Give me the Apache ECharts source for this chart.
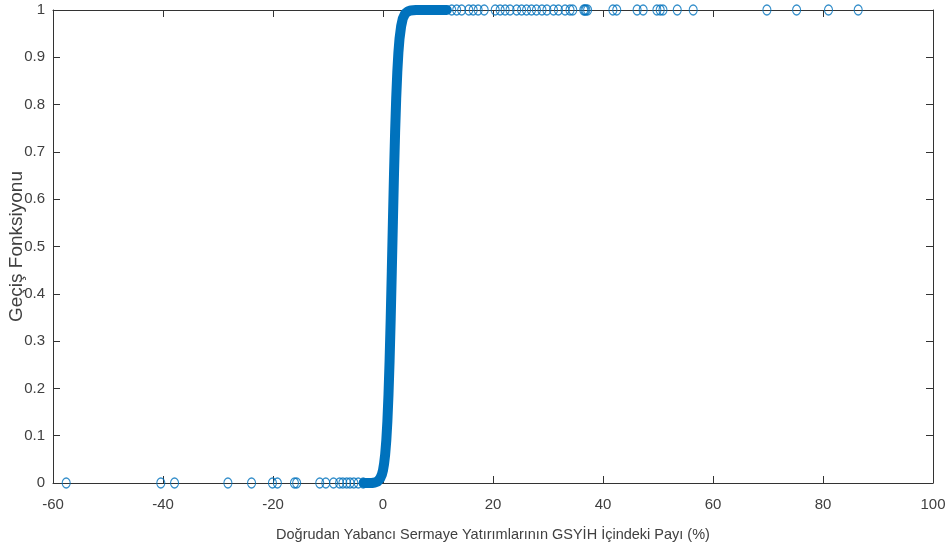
<!DOCTYPE html>
<html>
<head>
<meta charset="utf-8">
<script src="https://cdn.jsdelivr.net/npm/echarts@6/dist/echarts.min.js"></script>
<style>html,body{margin:0;padding:0;background:#fff;}#c{width:948px;height:548px;}</style>
</head>
<body>
<div id="c"></div>
<script>
// Sparse observations at G ~ 0 (x values)
const lowX = [-57.6, -40.4, -37.9, -28.2, -23.9, -20.1, -19.2, -16.1, -15.7, -11.5, -10.4, -9.0, -7.9, -7.3, -6.6, -6.0, -5.3, -4.5, -3.6];
// Sparse observations at G ~ 1 (x values)
const highX = [12.5, 13.4, 14.3, 15.6, 16.4, 17.3, 18.4, 20.4, 21.3, 22.2, 23.1, 24.3, 25.2, 26.1, 27.0, 27.9, 28.9, 29.8, 31.0, 31.9, 33.1, 34.0, 34.5, 36.5, 36.7, 36.9, 37.2, 41.8, 42.5, 46.2, 47.3, 49.8, 50.4, 50.9, 53.5, 56.4, 69.8, 75.2, 81.0, 86.4];
// Dense transition part of the curve
const curveX = [-3.5, -3.0, -2.5, -2.0, -1.5, -1.0, -0.5, -0.2, 0.0, 0.2, 0.4, 0.6, 0.8, 1.0, 1.2, 1.4, 1.6, 1.8, 2.0, 2.2, 2.4, 2.6, 2.8, 3.0, 3.3, 3.6, 4.0, 4.5, 5.0, 6.0, 7.0, 8.0, 9.0, 10.0, 11.0, 11.6];
const curveY = [0.000, 0.000, 0.000, 0.000, 0.001, 0.003, 0.010, 0.018, 0.027, 0.041, 0.061, 0.090, 0.131, 0.187, 0.259, 0.347, 0.448, 0.552, 0.653, 0.741, 0.813, 0.869, 0.910, 0.939, 0.966, 0.982, 0.992, 0.997, 0.999, 1.000, 1.000, 1.000, 1.000, 1.000, 1.000, 1.000];
const xTicks = [-60, -40, -20, 0, 20, 40, 60, 80, 100];
const yTicks = [0, 0.1, 0.2, 0.3, 0.4, 0.5, 0.6, 0.7, 0.8, 0.9, 1];

const blue = '#0072BD';
const axisCol = '#333333';
const labelFont = "'Liberation Sans Narrow', 'Liberation Sans', Arial, sans-serif";

const chart = echarts.init(document.getElementById('c'), null, {renderer: 'canvas'});
const pts = [];
lowX.forEach(x => pts.push([x, 0]));
highX.forEach(x => pts.push([x, 1]));
const curve = curveX.map((x, i) => [x, curveY[i]]);

const baseAxis = {
  axisLine: {show: true, onZero: false, lineStyle: {color: axisCol, width: 1}},
  axisTick: {show: true, inside: true, length: 7, lineStyle: {color: axisCol}},
  splitLine: {show: false}
};

chart.setOption({
  animation: false,
  backgroundColor: '#fff',
  grid: {left: 53, right: 15, top: 10, bottom: 65, containLabel: false, outerBoundsMode: 'none'},
  xAxis: [
    Object.assign({}, baseAxis, {
      type: 'value', min: xTicks[0], max: xTicks[xTicks.length - 1], interval: 20, position: 'bottom',
      axisLabel: {color: '#404040', fontSize: 15, fontFamily: labelFont, margin: 14},
      name: 'Doğrudan Yabancı Sermaye Yatırımlarının GSYİH İçindeki Payı (%)',
      nameLocation: 'middle', nameGap: 44,
      nameTextStyle: {color: '#404040', fontSize: 14.5, fontFamily: labelFont}
    }),
    Object.assign({}, baseAxis, {
      type: 'value', min: xTicks[0], max: xTicks[xTicks.length - 1], interval: 20, position: 'top',
      axisLabel: {show: false}
    })
  ],
  yAxis: [
    Object.assign({}, baseAxis, {
      type: 'value', min: 0, max: 1, interval: 0.1, position: 'left',
      axisLabel: {color: '#404040', fontSize: 15, fontFamily: labelFont, margin: 8,
        formatter: v => (Math.round(v * 10) / 10).toString()},
      name: 'Geçiş Fonksiyonu', nameLocation: 'middle', nameGap: 27, nameRotate: 90,
      nameMoveOverlap: false,
      nameTextStyle: {color: '#404040', fontSize: 19, fontFamily: "'Liberation Sans', Arial, sans-serif"}
    }),
    Object.assign({}, baseAxis, {
      type: 'value', min: 0, max: 1, interval: 0.1, position: 'right',
      axisLabel: {show: false}
    })
  ],
  series: [
    {
      type: 'line', data: curve, xAxisIndex: 0, yAxisIndex: 0,
      showSymbol: false, symbol: 'none', smooth: false,
      lineStyle: {color: blue, width: 10, cap: 'round', join: 'round'},
      z: 3
    },
    {
      type: 'scatter', data: pts, xAxisIndex: 0, yAxisIndex: 0,
      symbol: 'circle', symbolSize: [8, 10],
      itemStyle: {color: 'rgba(255,255,255,0)', borderColor: blue, borderWidth: 1.2},
      z: 4
    }
  ]
});
</script>
</body>
</html>
